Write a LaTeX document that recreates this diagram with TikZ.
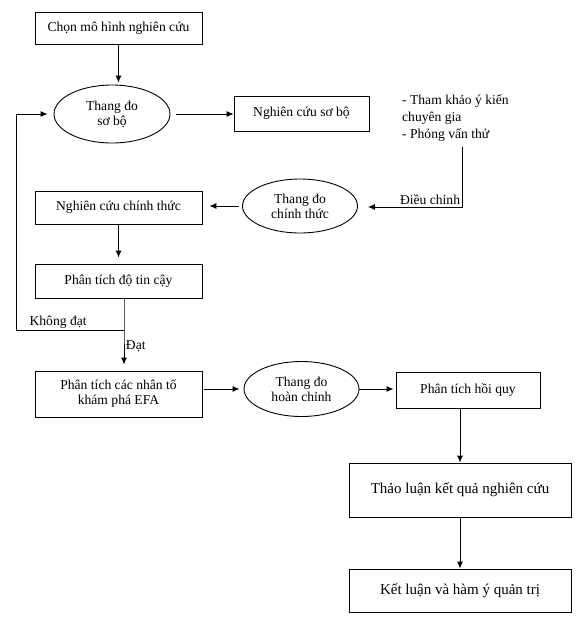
\documentclass[tikz,border=0pt]{standalone}
\usepackage{fontspec}
\setmainfont{Liberation Serif}
\usetikzlibrary{
  calc,
  arrows.meta,
  positioning,
  shapes.geometric,
}
\tikzset{
  box/.style 2 args = {
      rectangle,
      draw=black,
      line width=.9pt,
      minimum width=#1,
      minimum height=#2,
      inner sep=0pt,
      align=center,
      font=\fontsize{13.6}{15}\selectfont,
    },
  bigbox/.style 2 args = {
      box={#1}{#2},
      font=\fontsize{15}{17}\selectfont,
    },
  scale ell/.style 2 args = {
      ellipse,
      draw=black,
      line width=.9pt,
      minimum width=#1,
      minimum height=#2,
      inner sep=0pt,
      align=center,
      font=\fontsize{13.6}{15}\selectfont,
    },
  lbl/.style = {
      inner sep=1.5pt,
      font=\fontsize{13.6}{15}\selectfont,
    },
  arr/.style = {
      -{Latex[length=7pt, width=6pt]},
      line width=.9pt,
    },
}

\begin{document}
\begin{tikzpicture}[x=1pt, y=-1pt]
    \useasboundingbox (0,0) rectangle (586,622);

    \node[box={167}{32}] (model) at (118.5,28) {Chọn mô hình nghiên cứu};
    \node[scale ell={116}{58}] (sobo) at (112,114) {Thang đo\\sơ bộ};
    \node[box={135}{35}] (ncsobo) at (301.5,113.5) {Nghiên cứu sơ bộ};
    \node[lbl, anchor=north west, align=left, inner sep=0pt,
          font=\fontsize{13.6}{17}\selectfont] (ykien) at (402,94)
          {- Tham khảo ý kiến\\chuyên gia\\- Phỏng vấn thử};
    \node[scale ell={115}{54}] (chinhthuc) at (300,206) {Thang đo\\chính thức};
    \node[box={167}{33}] (ncct) at (118.5,207.5) {Nghiên cứu chính thức};
    \node[box={167}{34}] (tincay) at (118.5,281) {Phân tích độ tin cậy};
    \node[box={167}{46}] (efa) at (118.5,394) {Phân tích các nhân tố\\khám phá EFA};
    \node[scale ell={115}{55}] (hoanchinh) at (301.5,389) {Thang đo\\hoàn chỉnh};
    \node[box={144}{36}] (hoiquy) at (468,390) {Phân tích hồi quy};
    \node[bigbox={222}{54}] (thaoluan) at (460,490) {Thảo luận kết quả nghiên cứu};
    \node[bigbox={222}{43}] (ketluan) at (460,590.5) {Kết luận và hàm ý quản trị};

    \coordinate (dc) at (462,207);
    \coordinate (j) at (124,330);
    \coordinate (k) at (16,330);

    \draw[arr, shorten >=2pt] (model.south) -- (model.south |- sobo.north);
    \draw[arr, shorten <=6pt] (sobo.east) -- (sobo.east -| ncsobo.west);
    \draw[arr, shorten >=10pt] (ykien.south -| dc) ++(0,6) -- (dc)
        node[lbl, above left] {Điều chỉnh} -- (dc -| chinhthuc.east);
    \draw[arr, shorten <=3pt, shorten >=7pt] (chinhthuc.west) -- (chinhthuc.west -| ncct.east);
    \draw[arr, shorten >=6pt] (ncct.south) -- (tincay.north);
    \draw[arr, shorten >=6pt] (tincay.south -| j) -- (j)
        -- node[lbl, right, pos=.4] {Đạt} (efa.north -| j);
    \draw[arr, shorten >=6pt] (j) -- node[lbl, above, pos=.61] {Không đạt} (k) |- (sobo.west);
    \draw[arr, shorten <=2pt, shorten >=4pt] (hoanchinh.west -| efa.east) -- (hoanchinh.west);
    \draw[arr, shorten >=2pt] (hoanchinh.east) -- (hoanchinh.east -| hoiquy.west);
    \draw[arr] (thaoluan.north |- hoiquy.south) -- (thaoluan.north);
    \draw[arr] (thaoluan.south) -- (ketluan.north);
\end{tikzpicture}
\end{document}
